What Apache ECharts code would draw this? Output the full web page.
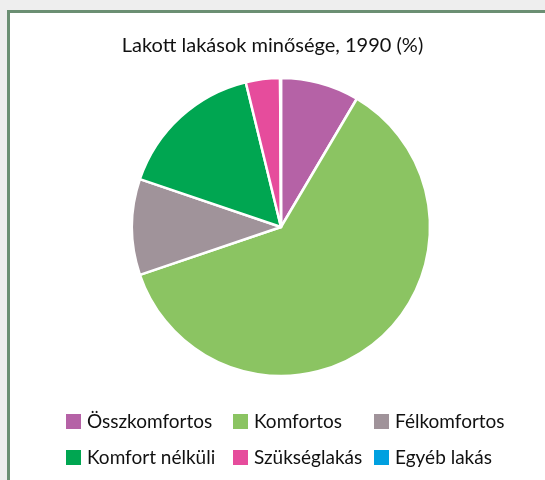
<!DOCTYPE html>
<html>
<head>
<meta charset="utf-8">
<script src="https://cdn.jsdelivr.net/npm/echarts@6/dist/echarts.min.js"></script>
<style>
  body { margin: 0; background: #eeeeee; }
  #frame { position: absolute; left: 7px; top: 10px; width: 560px; height: 500px;
           background: #ffffff; border: 3px solid #6b8f73; }
  #chart { position: absolute; left: 0; top: 0; width: 545px; height: 480px; }
</style>
</head>
<body>
<div id="frame"></div>
<div id="chart"></div>
<script>
// adatok
var kategoriak = ['Összkomfortos', 'Komfortos', 'Félkomfortos', 'Komfort nélküli', 'Szükséglakás', 'Egyéb lakás'];
var ertekek = [8.5, 61.3, 10.4, 16.0, 3.7, 0.1];
var szinek = ['#b562a6', '#8bc462', '#a0939a', '#00a651', '#e64c9c', '#00a0e0'];

// jelmagyarazat pozicioi (3 oszlop, 2 sor)
var oszlopX = [64, 231, 372];
var sorY = [412, 448];

var font = 'Lato, "Open Sans", sans-serif';

var legendak = kategoriak.map(function (nev, i) {
    return {
        data: [nev],
        left: oszlopX[i % 3],
        top: sorY[Math.floor(i / 3)],
        padding: 0,
        icon: 'rect',
        itemWidth: 17,
        itemHeight: 17,
        selectedMode: false,
        textStyle: { fontFamily: font, fontSize: 19, color: '#111' }
    };
});

var myChart = echarts.init(document.getElementById('chart'));
var option = {
    animation: false,
    color: szinek,
    title: {
        text: 'Lakott lakások minősége, 1990 (%)',
        left: 'center',
        top: 31,
        textStyle: { fontFamily: font, fontSize: 20, fontWeight: 'normal', color: '#111' }
    },
    legend: legendak,
    series: [
        {
            type: 'pie',
            center: [281, 227],
            radius: 149,
            startAngle: 90,
            clockwise: true,
            label: { show: false },
            labelLine: { show: false },
            itemStyle: { borderColor: '#ffffff', borderWidth: 2.5 },
            data: kategoriak.map(function (nev, i) {
                return { name: nev, value: ertekek[i] };
            })
        }
    ]
};
myChart.setOption(option);
</script>
</body>
</html>
